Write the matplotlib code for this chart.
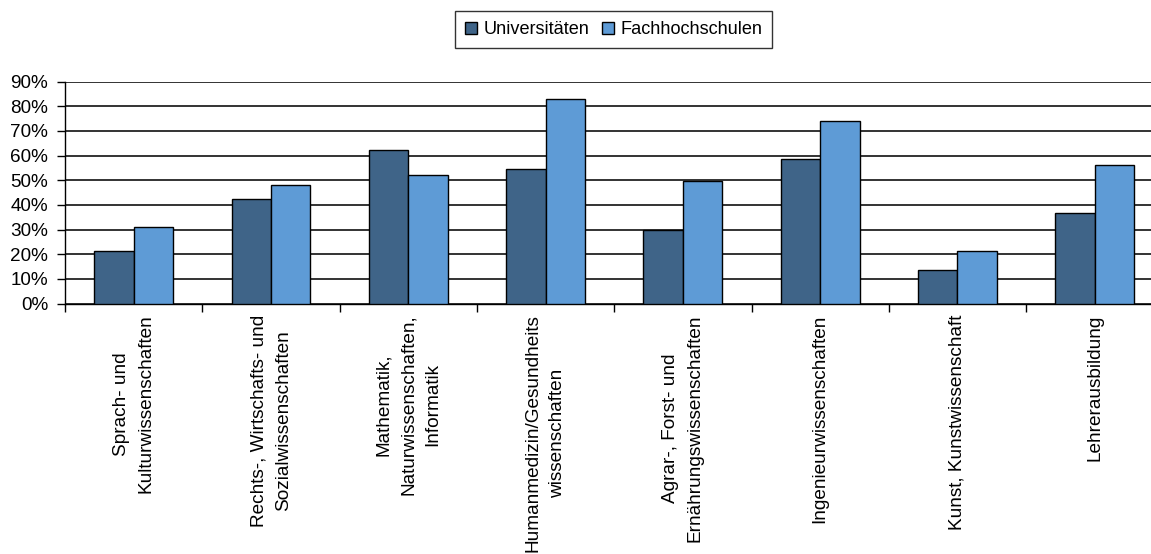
import numpy as np
import matplotlib
matplotlib.use("Agg")
import matplotlib.pyplot as plt
from matplotlib.ticker import FuncFormatter, FixedLocator

# --- Daten ---
categories = [
    "Sprach- und\nKulturwissenschaften",
    "Rechts-, Wirtschafts- und\nSozialwissenschaften",
    "Mathematik,\nNaturwissenschaften,\nInformatik",
    "Humanmedizin/Gesundheits\nwissenschaften",
    "Agrar-, Forst- und\nErnährungswissenschaften",
    "Ingenieurwissenschaften",
    "Kunst, Kunstwissenschaft",
    "Lehrerausbildung",
]
universitaeten = [21.2, 42.6, 62.3, 54.5, 29.8, 58.7, 13.5, 36.7]
fachhochschulen = [30.9, 47.9, 52.1, 83.0, 49.8, 74.0, 21.2, 56.3]
y_ticks = [0, 10, 20, 30, 40, 50, 60, 70, 80, 90]

COL_UNI = "#3F6488"
COL_FH = "#5E9BD6"

plt.rcParams["font.family"] = ["Liberation Sans", "DejaVu Sans"]
FS_CAT = 13.7
FS_Y = 13.6
FS_LEG = 13.1

W, H = 1151, 554
fig = plt.figure(figsize=(W / 100, H / 100), dpi=100)
ax = fig.add_axes([65 / W, (H - 303.5) / H, (W - 65) / W, (303.5 - 81.7) / H])

x = np.arange(len(categories))
bw = 0.287
ax.bar(x - bw / 2, universitaeten, bw, color=COL_UNI, edgecolor="black",
       linewidth=1.0, label="Universitäten", zorder=3)
ax.bar(x + bw / 2, fachhochschulen, bw, color=COL_FH, edgecolor="black",
       linewidth=1.0, label="Fachhochschulen", zorder=3)

unit = 137.3
ax.set_xlim(-0.5, -0.5 + (W - 65) / unit)
ax.set_ylim(0, 90)

ax.set_yticks(y_ticks)
ax.yaxis.set_major_formatter(FuncFormatter(lambda v, p: f"{int(v)}%"))
ax.yaxis.grid(True, color="#111111", linewidth=1.2, zorder=0)
ax.set_axisbelow(True)

# Kategorien in der Mitte, Striche an den Grenzen
ax.set_xticks(x)
ax.set_xticklabels(categories, rotation=90, fontsize=FS_CAT, ha="center", va="top",
                   multialignment="center", linespacing=1.6)
ax.xaxis.set_minor_locator(FixedLocator(np.arange(-0.5, 8.5, 1.0)))
ax.tick_params(axis="x", which="major", length=0, pad=8)
ax.tick_params(axis="x", which="minor", length=6, width=1.0, direction="out")
ax.tick_params(axis="y", length=6, width=1.0, labelsize=FS_Y, pad=6)

for s in ["top", "right"]:
    ax.spines[s].set_visible(False)
ax.spines["left"].set_linewidth(1.0)
ax.spines["bottom"].set_linewidth(1.0)

leg = fig.legend(loc="center", bbox_to_anchor=(613.5 / W, 1 - 29.5 / H),
                 ncol=2, fontsize=FS_LEG, frameon=True, fancybox=False,
                 edgecolor="black", handlelength=0.65, handleheight=0.65,
                 handletextpad=0.35, columnspacing=0.7, borderpad=0.55,
                 borderaxespad=0)
leg.get_frame().set_linewidth(1.0)

fig.savefig("out.png", dpi=100)
